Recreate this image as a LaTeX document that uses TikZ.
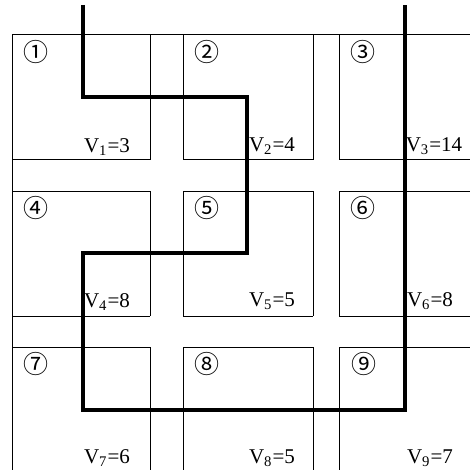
\documentclass[tikz,border=0pt]{standalone}
\usepackage{fontspec}
\setmainfont{Liberation Serif}
\newfontfamily\circfont{Noto Sans CJK SC}
\usepackage{tikz}

\tikzset{
    road/.style={line width=0.5pt},
    route/.style={line width=1.6pt, line join=miter},
    blockno/.style={inner sep=0pt, font=\circfont\fontsize{12.5}{12.5}\selectfont},
    blockval/.style={inner sep=0pt, font=\fontsize{10.5}{12}\selectfont}
}

\begin{document}
\begin{tikzpicture}[x=0.5pt, y=-0.5pt]
        \useasboundingbox (0,0) rectangle (470,470);
        % outer edges
        \draw[road] (12,470)--(12,35)--(470,35);
        % block sides
        \foreach \ya/\yb in {35/160, 191/316, 347/470}{
            \foreach \xv in {150,183,313,339}{
                \draw[road] (\xv,\ya)--(\xv,\yb);
            }
        }
        \foreach \xa/\xb in {12/150, 183/313, 339/470}{
            \foreach \yv in {160,191,316,347}{
                \draw[road] (\xa,\yv)--(\xb,\yv);
            }
        }
        % route
        \draw[route] (83,5)--(83,97)--(247,97)--(247,253)--(83,253)--(83,410)--(405,410)--(405,5);
        % block numbers
        \foreach \n/\xv/\yv in {1/36/52, 2/207/52, 3/363/52, 4/36/208, 5/207/208, 6/363/208, 7/36/364, 8/207/364, 9/364/364}{
            \node[blockno] (no\n) at (\xv,\yv) {\char\numexpr"245F+\n\relax};
        }
        % block values
        \node[blockval] (v1) at (107,147) {V\textsubscript{1}=3};
        \node[blockval] (v2) at (272,146) {V\textsubscript{2}=4};
        \node[blockval] (v3) at (434,146) {V\textsubscript{3}=14};
        \node[blockval] (v4) at (107,302) {V\textsubscript{4}=8};
        \node[blockval] (v5) at (272,301) {V\textsubscript{5}=5};
        \node[blockval] (v6) at (430,301) {V\textsubscript{6}=8};
        \node[blockval] (v7) at (107,458) {V\textsubscript{7}=6};
        \node[blockval] (v8) at (272,458) {V\textsubscript{8}=5};
        \node[blockval] (v9) at (430,458) {V\textsubscript{9}=7};
    \end{tikzpicture}
\end{document}
